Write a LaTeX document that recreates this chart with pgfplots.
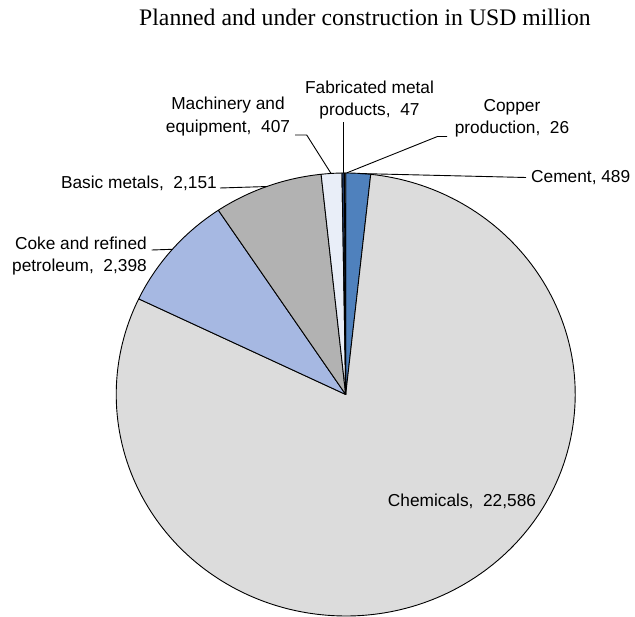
\documentclass[border=0pt]{standalone}
\usepackage{pgfplots}
\usepackage{pgfplotstable}
\pgfplotsset{compat=1.18}
\usepackage{fontspec}
\setmainfont{Liberation Serif}
\newfontfamily\arial{Liberation Sans}

\definecolor{cemc}{HTML}{4F81BD}
\definecolor{chemc}{HTML}{DCDCDC}
\definecolor{cokec}{HTML}{A6B8E2}
\definecolor{basicc}{HTML}{B2B2B2}
\definecolor{machc}{HTML}{E9EEF8}
\definecolor{fabc}{HTML}{1F3864}
\definecolor{copc}{HTML}{7F7F7F}

\begin{document}
\begin{tikzpicture}
% slices, clockwise from 12 o'clock
\pgfplotstableread{
label value color
Cement 489 cemc
Chemicals 22586 chemc
Coke 2398 cokec
Basic 2151 basicc
Machinery 407 machc
Fabricated 47 fabc
Copper 26 copc
}\piedata

\def\total{0}
\pgfplotsforeachungrouped \i in {0,...,6}{%
  \pgfplotstablegetelem{\i}{value}\of\piedata
  \edef\total{\fpeval{\total+\pgfplotsretval}}%
}

% centre and radii in px (picture is slightly wider than tall)
\def\cx{345.7}
\def\cy{394.5}
\def\rx{229.5}
\def\ry{221.5}

\begin{axis}[
    hide axis,
    scale only axis,
    x=1pt, y=1pt,
    y dir=reverse,
    xmin=0, xmax=635,
    ymin=0, ymax=617,
    clip=false,
]

\def\cum{0}
\pgfplotsforeachungrouped \i in {0,...,6}{%
  \pgfplotstablegetelem{\i}{value}\of\piedata \let\v\pgfplotsretval
  \pgfplotstablegetelem{\i}{color}\of\piedata \let\c\pgfplotsretval
  \edef\aS{\fpeval{90-360*\cum/\total}}%
  \edef\cum{\fpeval{\cum+\v}}%
  \edef\aE{\fpeval{90-360*\cum/\total}}%
  \edef\px{\fpeval{\cx+\rx*cosd(\aS)}}%
  \edef\py{\fpeval{\cy-\ry*sind(\aS)}}%
  \edef\temp{\noexpand\filldraw[fill=\c, draw=black, line width=0.9pt, line join=round]
    (axis cs:\cx,\cy) -- (axis cs:\px,\py)
    arc[start angle=\aS, end angle=\aE, x radius=\rx pt, y radius=\ry pt] -- cycle;}%
  \temp
}

% title
\node[font=\fontsize{23.7}{28}\selectfont, inner sep=0pt] at (axis cs:365,17.2)
    {Planned and under construction in USD million};

% leader lines
\draw[line width=0.9pt] (axis cs:358,173.5) -- (axis cs:526,177.5);
\draw[line width=0.9pt] (axis cs:346.5,173) -- (axis cs:437.5,136.5) -- (axis cs:447,136.5);
\draw[line width=0.9pt] (axis cs:343,173) -- (axis cs:343,122);
\draw[line width=0.9pt] (axis cs:331,173.4) -- (axis cs:306.7,135) -- (axis cs:295,135);
\draw[line width=0.9pt] (axis cs:267.6,186.5) -- (axis cs:220,188);
\draw[line width=0.9pt] (axis cs:172.3,249.3) -- (axis cs:151.7,250);

% labels
\begin{scope}[every node/.style={font=\arial\fontsize{17.3}{22.5}\selectfont, inner sep=0pt}]
\node[anchor=west] at (axis cs:531,177.3) {Cement, 489};
\node[align=center] at (axis cs:512,118.2) {Copper\\production,\ \ 26};
\node[align=center] at (axis cs:369.5,100) {Fabricated metal\\products,\ \ 47};
\node[align=center] at (axis cs:228,116.7) {Machinery and\\equipment,\ \ 407};
\node[anchor=east] at (axis cs:217,183.3) {Basic metals,\ \ 2,151};
\node[anchor=east, align=right] at (axis cs:147,256) {Coke and refined\\petroleum,\ \ 2,398};
\node at (axis cs:462,501.7) {Chemicals,\ \ 22,586};
\end{scope}

\end{axis}
\pgfresetboundingbox
\useasboundingbox (current axis.south west) rectangle (current axis.north east);
\end{tikzpicture}
\end{document}
